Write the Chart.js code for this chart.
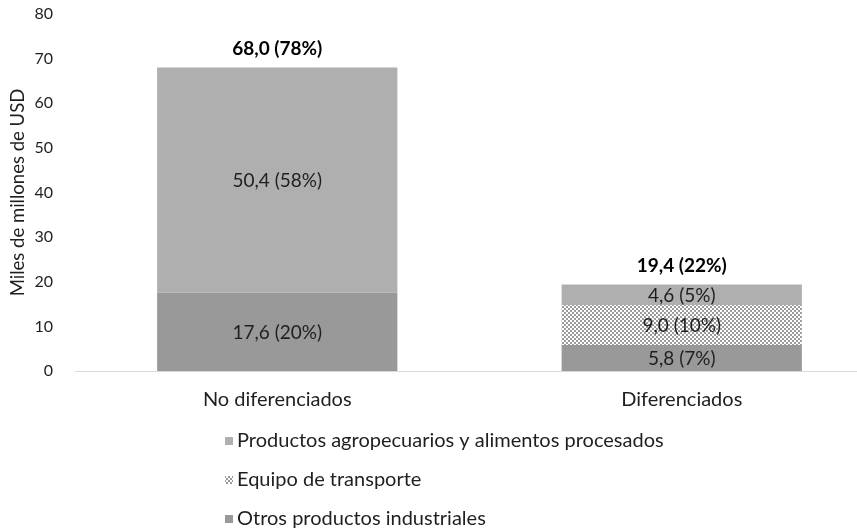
<!DOCTYPE html>
<html>
<head>
<meta charset="utf-8">
<script src="https://cdn.jsdelivr.net/npm/chart.js@4.4.1/dist/chart.umd.min.js"></script>
<style>
  html, body { margin: 0; padding: 0; background: #fff; overflow: hidden; }
  /* the original plot runs a bit past the right edge of the picture */
  #wrap { width: 884px; height: 530px; }
</style>
</head>
<body>
<div id="wrap"><canvas id="chart" width="884" height="530"></canvas></div>
<script>
const categories = ["No diferenciados", "Diferenciados"];
const otrosIndustriales = [17.6, 5.8];
const equipoTransporte = [0, 9.0];
const agropecuarios = [50.4, 4.6];
const seriesNames = [
  "Otros productos industriales",
  "Equipo de transporte",
  "Productos agropecuarios y alimentos procesados",
];
const yTicks = [0, 10, 20, 30, 40, 50, 60, 70, 80];

const FONT = "Lato, 'Open Sans', sans-serif";
const TEXT = "#1f1f1f";

// checker pattern for "Equipo de transporte"
function checker() {
  const c = document.createElement("canvas");
  c.width = 4;
  c.height = 4;
  const g = c.getContext("2d");
  g.fillStyle = "#ffffff";
  g.fillRect(0, 0, 4, 4);
  g.fillStyle = "#9b9b9b";
  g.fillRect(0, 0, 2, 2);
  g.fillRect(2, 2, 2, 2);
  return g.createPattern(c, "repeat");
}

const grandTotal = [...otrosIndustriales, ...equipoTransporte, ...agropecuarios]
  .reduce((a, b) => a + b, 0);

function fmt(v) {
  const pct = Math.round((v / grandTotal) * 100);
  return v.toFixed(1).replace(".", ",") + " (" + pct + "%)";
}

const labelsPlugin = {
  id: "labels",
  afterDatasetsDraw(chart) {
    const ctx = chart.ctx;
    ctx.save();
    ctx.textAlign = "center";
    ctx.textBaseline = "middle";
    ctx.fillStyle = TEXT;
    ctx.font = "19px " + FONT;
    const tops = [];
    chart.data.datasets.forEach((ds, i) => {
      chart.getDatasetMeta(i).data.forEach((bar, j) => {
        const v = ds.data[j];
        if (tops[j] === undefined || bar.y < tops[j]) tops[j] = bar.y;
        if (!v) return;
        ctx.fillText(fmt(v), bar.x, (bar.y + bar.base) / 2 + 1);
      });
    });
    // totals above each column
    ctx.font = "bold 19px " + FONT;
    ctx.fillStyle = "#000";
    categories.forEach((c, j) => {
      const total = chart.data.datasets.reduce((s, ds) => s + ds.data[j], 0);
      const x = chart.getDatasetMeta(0).data[j].x;
      ctx.fillText(fmt(total), x, tops[j] - 19);
    });
    ctx.restore();
  },
};

// legend stacked one item per line, top series first
const legendPlugin = {
  id: "stackLegend",
  afterDraw(chart) {
    const ctx = chart.ctx;
    ctx.save();
    ctx.font = "20px " + FONT;
    ctx.textBaseline = "middle";
    ctx.textAlign = "left";
    const items = chart.data.datasets.slice().reverse();
    items.forEach((ds, k) => {
      const y = 441 + k * 39;
      ctx.fillStyle = ds.backgroundColor;
      ctx.fillRect(225, y - 4, 8, 8);
      ctx.fillStyle = TEXT;
      ctx.fillText(ds.label, 237, y);
    });
    ctx.restore();
  },
};

new Chart(document.getElementById("chart"), {
  type: "bar",
  data: {
    labels: categories,
    datasets: [
      { label: seriesNames[0], data: otrosIndustriales, backgroundColor: "#999999" },
      { label: seriesNames[1], data: equipoTransporte, backgroundColor: checker() },
      { label: seriesNames[2], data: agropecuarios, backgroundColor: "#afafaf" },
    ],
  },
  options: {
    responsive: false,
    animation: false,
    layout: { padding: { top: 14, left: 0, right: 0, bottom: 0 } },
    datasets: { bar: { categoryPercentage: 1, barPercentage: 0.594 } },
    plugins: { legend: { display: false }, tooltip: { enabled: false } },
    scales: {
      x: {
        stacked: true,
        grid: { display: true, drawOnChartArea: false, drawTicks: false },
        border: { display: true, color: "#d9d9d9", width: 1 },
        ticks: { padding: 17, color: TEXT, font: { family: FONT, size: 20 } },
        afterFit(scale) {
          scale.height = 159;
          scale.paddingLeft = 0;
          scale.paddingRight = 0;
        },
      },
      y: {
        stacked: true,
        min: 0,
        max: 80,
        afterBuildTicks(scale) { scale.ticks = yTicks.map((v) => ({ value: v })); },
        grid: { display: false, drawTicks: false },
        border: { display: false },
        ticks: { padding: 22, color: TEXT, font: { family: FONT, size: 16 } },
        title: {
          display: true,
          text: "Miles de millones de USD",
          color: TEXT,
          font: { family: FONT, size: 18.5 },
          padding: { top: 7, bottom: 0 },
        },
        afterFit(scale) {
          scale.width = 75;
          scale.paddingTop = 0;
          scale.paddingBottom = 0;
        },
      },
    },
  },
  plugins: [labelsPlugin, legendPlugin],
});
</script>
</body>
</html>
